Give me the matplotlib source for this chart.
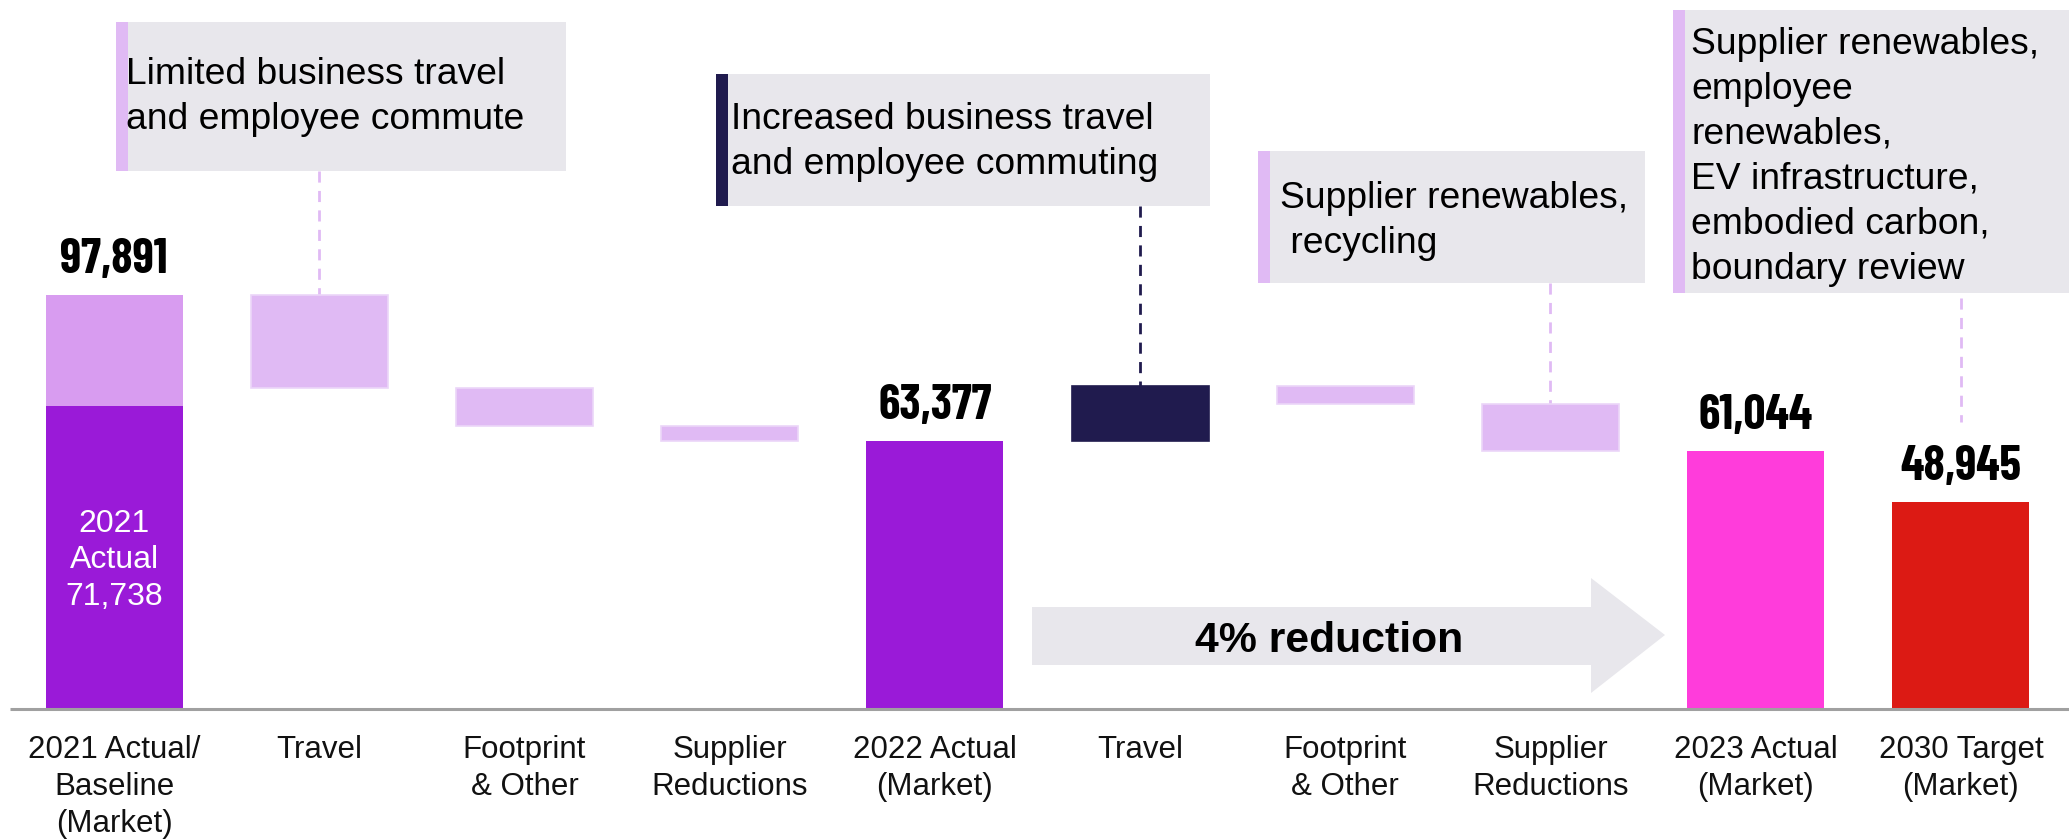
import matplotlib
matplotlib.use("Agg")
import matplotlib.pyplot as plt
from matplotlib.patches import Rectangle, Polygon

# ---------------- data ----------------
categories = ["2021 Actual/\nBaseline\n(Market)", "Travel", "Footprint\n& Other",
              "Supplier\nReductions", "2022 Actual\n(Market)", "Travel",
              "Footprint\n& Other", "Supplier\nReductions", "2023 Actual\n(Market)",
              "2030 Target\n(Market)"]
baseline_2021_total = 97891
baseline_2021_actual = 71738
changes_2022 = [-22070, -8780, -3664]      # travel, footprint & other, supplier
total_2022 = 63377
changes_2023 = [13050, -4330, -11053]      # travel, footprint & other, supplier
total_2023 = 61044
target_2030 = 48945
value_labels = ["97,891", "63,377", "61,044", "48,945"]
inner_label = "2021\nActual\n71,738"
arrow_label = "4% reduction"
notes = ["Limited business travel\nand employee commute",
         "Increased business travel\nand employee commuting",
         "Supplier renewables,\n recycling",
         "Supplier renewables,\nemployee\nrenewables,\nEV infrastructure,\nembodied carbon,\nboundary review"]

# ---------------- style ----------------
W, H = 2069, 839
DPI = 100
C_PURPLE = "#9A1AD8"
C_PURPLE_L = "#D89CF0"
C_STEP = "#E0BAF4"
C_NAVY = "#201B4E"
C_PINK = "#FF3CDB"
C_RED = "#DC1A14"
C_BOX = "#E8E7EC"

REG = ["Liberation Sans", "DejaVu Sans"]
NARROW = ["Barlow Condensed", "Roboto Condensed", "DejaVu Sans"]

fig = plt.figure(figsize=(W / DPI, H / DPI), dpi=DPI)
ax = fig.add_axes([0, 0, 1, 1])
ax.set_axis_off()

# pixel layout helpers (x from left, y from top)
X0, XU = 114.1, 205.2
Y0, YU = 709.0, 236.5
ax.set_xlim(-X0 / XU, (W - X0) / XU)
ax.set_ylim(-(H - Y0) * YU, Y0 * YU)

def fx(px):
    return px / W

def fy(py):
    return 1 - py / H

def data_y(py):
    return (Y0 - py) * YU

bw = 0.668

# ---------------- bars ----------------
ax.bar(0, baseline_2021_actual, width=bw, color=C_PURPLE, zorder=3)
ax.bar(0, baseline_2021_total - baseline_2021_actual, bottom=baseline_2021_actual,
       width=bw, color=C_PURPLE_L, zorder=3)
level = baseline_2021_total
tops = {0: baseline_2021_total}
for i, ch in enumerate(changes_2022):
    new = level + ch
    ax.bar(1 + i, abs(ch), bottom=min(level, new), width=bw, color=C_STEP,
           edgecolor="#EBD6F8", linewidth=1.2, zorder=3)
    tops[1 + i] = max(level, new)
    level = new
ax.bar(4, total_2022, width=bw, color=C_PURPLE, zorder=3)
tops[4] = total_2022
level = total_2022
for i, ch in enumerate(changes_2023):
    new = level + ch
    col = C_NAVY if ch > 0 else C_STEP
    ax.bar(5 + i, abs(ch), bottom=min(level, new), width=bw, color=col,
           edgecolor=(col if ch > 0 else "#EBD6F8"), linewidth=1.2, zorder=3)
    tops[5 + i] = max(level, new)
    level = new
ax.bar(8, total_2023, width=bw, color=C_PINK, zorder=3)
ax.bar(9, target_2030, width=bw, color=C_RED, zorder=3)
tops[8] = total_2023
tops[9] = target_2030

# baseline
ax.plot([fx(10), 1], [fy(709), fy(709)], transform=fig.transFigure,
        color="#A0A0A0", lw=2.2, zorder=4, solid_capstyle="butt")

# value labels
for idx, lab, val in zip([0, 4, 8, 9], value_labels,
                         [baseline_2021_total, total_2022, total_2023, target_2030]):
    ax.text(idx, val + 22 * YU, lab, ha="center", va="baseline", fontsize=35,
            fontweight="bold", family=NARROW, color="#000000", zorder=5)

# inner label
ax.text(0, data_y(509), inner_label, ha="center", va="top", fontsize=23,
        family=REG, color="white", linespacing=1.28, zorder=5)

# category labels
for i, c in enumerate(categories):
    ax.text(i, data_y(735), c, ha="center", va="top", fontsize=22.5, family=REG,
            color="#111111", linespacing=1.31, zorder=5)

# ---------------- annotation boxes ----------------
boxes = [  # (x0, y0, x1, y1) in px, accent colour, text x, text top
    (116, 22, 566, 171, C_STEP, 126, 57),
    (716, 74, 1210, 206, C_NAVY, 731, 102),
    (1258, 151, 1645, 283, C_STEP, 1280, 181),
    (1673, 10, 2069, 293, C_STEP, 1691, 27),
]
for (x0, y0, x1, y1, acc, tx, ty), note in zip(boxes, notes):
    fig.add_artist(Rectangle((fx(x0), fy(y1)), fx(x1) - fx(x0), fy(y0) - fy(y1),
                             transform=fig.transFigure, facecolor=C_BOX,
                             edgecolor="none", zorder=1))
    fig.add_artist(Rectangle((fx(x0), fy(y1)), fx(x0 + 12) - fx(x0), fy(y0) - fy(y1),
                             transform=fig.transFigure, facecolor=acc,
                             edgecolor="none", zorder=2))
    fig.text(fx(tx), fy(ty), note, ha="left", va="top", fontsize=26.8, family=REG,
             color="#000000", linespacing=1.37, zorder=6)

# dashed connectors: (bar index, box bottom px, end, colour)
connectors = [(1, 171, tops[1], C_STEP),
              (5, 206, tops[5], C_NAVY),
              (7, 283, tops[7], C_STEP),
              (9, 298, data_y(422), C_STEP)]
for idx, ytop_px, yend, col in connectors:
    ax.plot([idx, idx], [data_y(ytop_px), yend], color=col, lw=2,
            linestyle=(0, (4, 3)), zorder=2)

# ---------------- arrow ----------------
arrow_pts = [(1032, 607), (1591, 607), (1591, 578), (1665, 635),
             (1591, 693), (1591, 665), (1032, 665)]
fig.add_artist(Polygon([(fx(a), fy(b)) for a, b in arrow_pts], closed=True,
                       transform=fig.transFigure, facecolor=C_BOX,
                       edgecolor="none", zorder=1))
fig.text(fx(1329), fy(641), arrow_label, ha="center", va="center", fontsize=30.8,
         fontweight="bold", family=REG, color="#000000", zorder=6)

fig.savefig("out.png", dpi=DPI, facecolor="white")
